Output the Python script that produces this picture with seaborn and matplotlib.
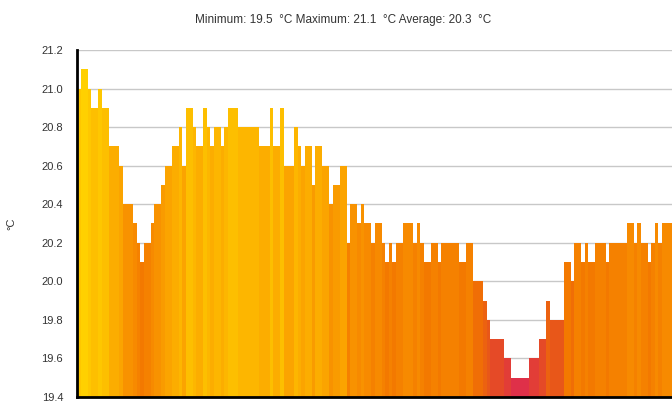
import numpy as np
import pandas as pd
import matplotlib
matplotlib.use("Agg")
import matplotlib.pyplot as plt
import seaborn as sns
from matplotlib.colors import LinearSegmentedColormap

# temperature readings, one bar per sample
temps = [
    21.0, 21.1, 21.1, 21.0, 20.9, 20.9, 21.0, 20.9, 20.9, 20.7,
    20.7, 20.7, 20.6, 20.4, 20.4, 20.4, 20.3, 20.2, 20.1, 20.2,
    20.2, 20.3, 20.4, 20.4, 20.5, 20.6, 20.6, 20.7, 20.7, 20.8,
    20.6, 20.9, 20.9, 20.8, 20.7, 20.7, 20.9, 20.8, 20.7, 20.8,
    20.8, 20.7, 20.8, 20.9, 20.9, 20.9, 20.8, 20.8, 20.8, 20.8,
    20.8, 20.8, 20.7, 20.7, 20.7, 20.9, 20.7, 20.7, 20.9, 20.6,
    20.6, 20.6, 20.8, 20.7, 20.6, 20.7, 20.7, 20.5, 20.7, 20.7,
    20.6, 20.6, 20.4, 20.5, 20.5, 20.6, 20.6, 20.2, 20.4, 20.4,
    20.3, 20.4, 20.3, 20.3, 20.2, 20.3, 20.3, 20.2, 20.1, 20.2,
    20.1, 20.2, 20.2, 20.3, 20.3, 20.3, 20.2, 20.3, 20.2, 20.1,
    20.1, 20.2, 20.2, 20.1, 20.2, 20.2, 20.2, 20.2, 20.2, 20.1,
    20.1, 20.2, 20.2, 20.0, 20.0, 20.0, 19.9, 19.8, 19.7, 19.7,
    19.7, 19.7, 19.6, 19.6, 19.5, 19.5, 19.5, 19.5, 19.5, 19.6,
    19.6, 19.6, 19.7, 19.7, 19.9, 19.8, 19.8, 19.8, 19.8, 20.1,
    20.1, 20.0, 20.2, 20.2, 20.1, 20.2, 20.1, 20.1, 20.2, 20.2,
    20.2, 20.1, 20.2, 20.2, 20.2, 20.2, 20.2, 20.3, 20.3, 20.2,
    20.3, 20.2, 20.2, 20.1, 20.2, 20.3, 20.2, 20.3, 20.3, 20.3,
]
yticks = [19.4, 19.6, 19.8, 20.0, 20.2, 20.4, 20.6, 20.8, 21.0, 21.2]
title = "Minimum: 19.5  °C Maximum: 21.1  °C Average: 20.3  °C"

df = pd.DataFrame({"sample": range(len(temps)), "temp": temps})

# red -> orange -> yellow by value
cmap = LinearSegmentedColormap.from_list("heat", [
    (0.00, "#df3049"),
    (0.15, "#e6501f"),
    (0.35, "#f27500"),
    (0.55, "#f89000"),
    (0.75, "#fcad00"),
    (0.92, "#fec500"),
    (1.00, "#ffd000"),
])
lo, hi = 19.5, 21.1
colors = [cmap((t - lo) / (hi - lo)) for t in temps]

sns.set_style("white")
plt.rcParams["font.family"] = ["Liberation Sans", "DejaVu Sans"]

fig = plt.figure(figsize=(6.72, 4.16), dpi=100)
ax = fig.add_axes([77 / 672, 19 / 416, 1 - 77 / 672, (397 - 50) / 416])

sns.barplot(data=df, x="sample", y="temp", hue="sample", palette=colors,
            legend=False, width=1.0, saturation=1.0, linewidth=0, ax=ax)

ax.set_ylim(19.4, 21.2)
ax.set_xlim(-0.5, len(temps) - 0.5)
ax.set_yticks(yticks)
ax.set_yticklabels([f"{v:.1f}" for v in yticks], fontsize=8, color="#333333")
ax.set_xticks([])
ax.set_xlabel("")
ax.set_ylabel("°C", fontsize=8, color="#333333", labelpad=18)
ax.yaxis.grid(True, color="#c8c8c8", linewidth=1)
ax.set_axisbelow(True)
ax.tick_params(axis="y", direction="out", length=3, width=1, color="black", pad=7)

for s in ["top", "right"]:
    ax.spines[s].set_visible(False)
ax.spines["left"].set_color("black")
ax.spines["left"].set_linewidth(2)
ax.spines["bottom"].set_color("black")
ax.spines["bottom"].set_linewidth(2)

fig.text(343 / 672, 1 - 20 / 416, title,
         ha="center", va="center", fontsize=8.5, color="#333333")

fig.savefig("out.png", dpi=100)
